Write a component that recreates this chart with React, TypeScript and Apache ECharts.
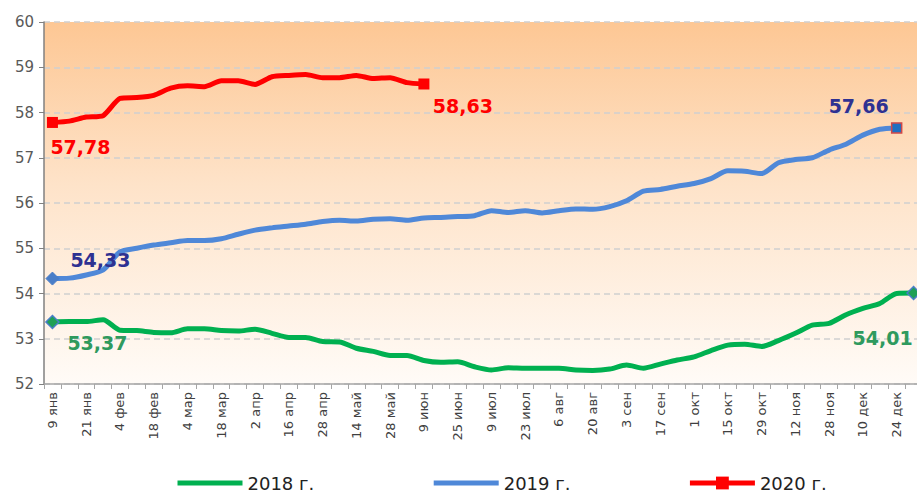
import React, { useEffect, useRef } from "react";
import * as echarts from "echarts";

const categories = [
  "9 янв", "14 янв", "21 янв", "28 янв", "4 фев", "11 фев", "18 фев", "25 фев",
  "4 мар", "11 мар", "18 мар", "25 мар", "2 апр", "9 апр", "16 апр", "22 апр",
  "28 апр", "6 май", "14 май", "21 май", "28 май", "3 июн", "9 июн", "17 июн",
  "25 июн", "2 июл", "9 июл", "16 июл", "23 июл", "30 июл", "6 авг", "13 авг",
  "20 авг", "27 авг", "3 сен", "10 сен", "17 сен", "24 сен", "1 окт", "8 окт",
  "15 окт", "22 окт", "29 окт", "5 ноя", "12 ноя", "19 ноя", "28 ноя", "3 дек",
  "10 дек", "17 дек", "24 дек", "31 дек",
];

const values2018 = [
  53.37, 53.38, 53.38, 53.42, 53.19, 53.18, 53.14, 53.13, 53.22, 53.22, 53.18, 53.17,
  53.21, 53.12, 53.03, 53.03, 52.94, 52.93, 52.79, 52.72, 52.63, 52.63, 52.52, 52.48,
  52.49, 52.38, 52.31, 52.36, 52.35, 52.35, 52.35, 52.31, 52.30, 52.33, 52.42, 52.35,
  52.44, 52.53, 52.60, 52.74, 52.86, 52.88, 52.83, 52.96, 53.12, 53.30, 53.34, 53.53,
  53.67, 53.78, 54.0, 54.01,
];

const values2019 = [
  54.33, 54.34, 54.41, 54.52, 54.92, 55.0, 55.07, 55.12, 55.17, 55.17, 55.21, 55.31,
  55.40, 55.45, 55.49, 55.53, 55.59, 55.62, 55.60, 55.64, 55.65, 55.62, 55.67, 55.68,
  55.70, 55.72, 55.83, 55.79, 55.83, 55.78, 55.83, 55.87, 55.86, 55.92, 56.05, 56.26,
  56.30, 56.37, 56.43, 56.54, 56.71, 56.70, 56.65, 56.89, 56.96, 57.0, 57.17, 57.30,
  57.50, 57.63, 57.66,
];

const values2020 = [
  57.78, 57.81, 57.90, 57.93, 58.31, 58.33, 58.38, 58.54, 58.59, 58.57, 58.70, 58.70,
  58.62, 58.79, 58.82, 58.84, 58.77, 58.77, 58.82, 58.75, 58.77, 58.66, 58.63,
];

const seriesNames = ["2018 г.", "2019 г.", "2020 г."];
const yMin = 52;
const yMax = 60;

const fmt = (p: any) => Number(p.value).toFixed(2).replace(".", ",");

const labelFont = {
  fontFamily: "DejaVu Sans",
  fontWeight: "bold" as const,
  fontSize: 19,
};

type Mark = {
  symbol: string;
  size: number;
  fill: string;
  border: string;
  bw: number;
  color: string;
  offset: [number, number];
};

function build(vals: number[], marks: Record<number, Mark>) {
  return vals.map((v, i) => {
    const m = marks[i];
    if (!m) return { value: v, symbol: "none" };
    return {
      value: v,
      symbol: m.symbol,
      symbolSize: m.size,
      itemStyle: { color: m.fill, borderColor: m.border, borderWidth: m.bw },
      label: {
        show: true,
        position: "inside",
        offset: m.offset,
        color: m.color,
        formatter: fmt,
        ...labelFont,
      },
    };
  });
}

export default function App() {
  const ref = useRef<HTMLDivElement>(null);
  useEffect(() => {
    if (!ref.current) return;
    const chart = echarts.init(ref.current, undefined, { renderer: "svg" });
    const green = "#00B050";
    const blue = "#4F88D8";
    const red = "#FF0000";
    const navyLabel = "#2E3192";
    const greenLabel = "#2F9A5E";

    const d2018 = build(values2018, {
      0: { symbol: "diamond", size: 13, fill: "#1FA055", border: "#4A7EC8", bw: 1.5, color: greenLabel, offset: [45, 21] },
      [values2018.length - 1]: { symbol: "diamond", size: 13, fill: "#1FA055", border: "#4A7EC8", bw: 1.5, color: greenLabel, offset: [-31, 45] },
    });
    const d2019 = build(values2019, {
      0: { symbol: "diamond", size: 13, fill: "#4A7EC8", border: "#4A7EC8", bw: 1, color: navyLabel, offset: [48, -19] },
      [values2019.length - 1]: { symbol: "rect", size: 10, fill: "#1F6FC0", border: "#D04848", bw: 1.5, color: navyLabel, offset: [-38, -22] },
    });
    const d2020 = build(values2020, {
      0: { symbol: "rect", size: 11, fill: red, border: red, bw: 0, color: red, offset: [28, 25] },
      [values2020.length - 1]: { symbol: "rect", size: 11, fill: red, border: red, bw: 0, color: red, offset: [39, 22] },
    });

    const hiddenIcon = { opacity: 0, color: "rgba(0,0,0,0)", borderWidth: 0 };

    chart.setOption({
      animation: false,
      grid: {
        left: 44,
        top: 22,
        width: 878,
        height: 362,
        show: true,
        borderWidth: 0,
        backgroundColor: {
          type: "linear",
          x: 0,
          y: 0,
          x2: 0,
          y2: 1,
          colorStops: [
            { offset: 0, color: "#FDC794" },
            { offset: 0.45, color: "#FEE3C9" },
            { offset: 1, color: "#FFFBF7" },
          ],
        },
      },
      legend: {
        data: [
          { name: seriesNames[0], itemStyle: hiddenIcon },
          { name: seriesNames[1], itemStyle: hiddenIcon },
          { name: seriesNames[2] },
        ],
        left: 170,
        top: 469,
        itemWidth: 65,
        itemHeight: 16,
        itemGap: 117,
        lineStyle: { width: 5 },
        textStyle: { fontFamily: "DejaVu Sans", fontSize: 18, color: "#222" },
      },
      xAxis: {
        type: "category",
        data: categories,
        boundaryGap: true,
        axisLine: { show: true, lineStyle: { color: "#A6A6A6", width: 1.5 } },
        axisTick: { show: true, interval: 0, length: 5, lineStyle: { color: "#A6A6A6" } },
        axisLabel: {
          interval: 1,
          rotate: 90,
          margin: 8,
          fontFamily: "DejaVu Sans",
          fontSize: 13,
          color: "#404040",
        },
        splitLine: { show: false },
      },
      yAxis: {
        type: "value",
        min: yMin,
        max: yMax,
        interval: 1,
        axisLine: { show: true, lineStyle: { color: "#808080", width: 1.5 } },
        axisTick: { show: true, length: 5, lineStyle: { color: "#808080" } },
        axisLabel: {
          fontFamily: "DejaVu Sans",
          fontSize: 15,
          color: "#595959",
          margin: 10,
        },
        splitLine: { show: true, lineStyle: { color: "#D0D0D0", type: [6, 4], width: 1.5 } },
      },
      series: [
        {
          name: seriesNames[0],
          type: "line",
          data: d2018,
          symbol: "none",
          showSymbol: true,
          showAllSymbol: true,
          smooth: 0.25,
          lineStyle: { color: green, width: 5 },
          itemStyle: { color: green },
          z: 2,
        },
        {
          name: seriesNames[1],
          type: "line",
          data: d2019,
          symbol: "none",
          showSymbol: true,
          showAllSymbol: true,
          smooth: 0.25,
          lineStyle: { color: blue, width: 5 },
          itemStyle: { color: blue },
          z: 3,
        },
        {
          name: seriesNames[2],
          type: "line",
          data: d2020,
          symbol: "rect",
          symbolSize: 11,
          showSymbol: true,
          showAllSymbol: true,
          smooth: 0.2,
          lineStyle: { color: red, width: 5 },
          itemStyle: { color: red },
          z: 4,
        },
      ],
    });
    return () => chart.dispose();
  }, []);
  return (
    <div
      style={{ position: "absolute", left: 0, top: 0, width: 917, height: 493, overflow: "hidden", background: "#fff" }}
    >
      <div ref={ref} style={{ width: 940, height: 493 }} />
    </div>
  );
}
